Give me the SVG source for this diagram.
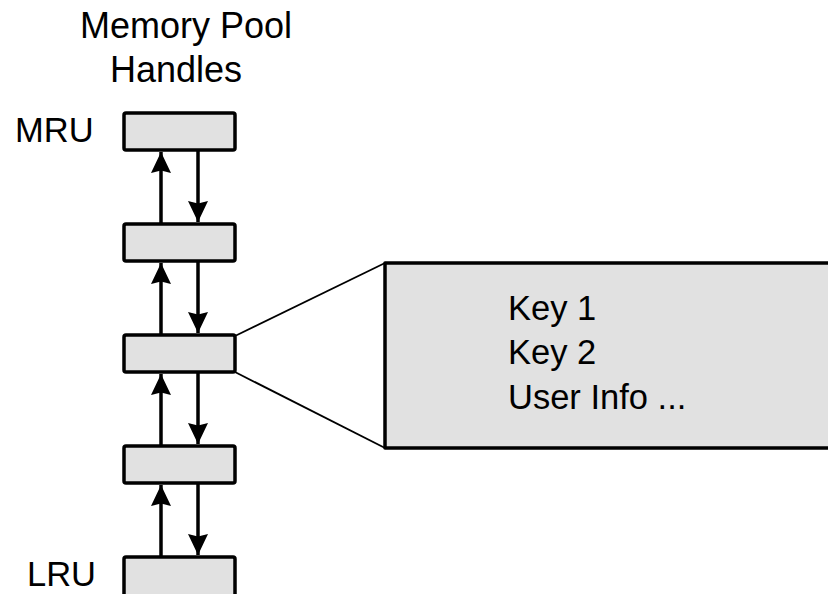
<svg xmlns="http://www.w3.org/2000/svg" width="828" height="594" viewBox="0 0 828 594">
<defs>
<style>
.box{fill:#e1e1e1;stroke:#000;stroke-width:3.5;stroke-linejoin:round}
.t{font-family:"Liberation Sans",Arial,sans-serif;font-size:34.5px;fill:#000}
.h{font-size:36px}
.c{stroke:#000;stroke-width:3.5;fill:none}
.f{stroke:#000;stroke-width:1.8;fill:none}
</style>
<marker id="ah" markerUnits="userSpaceOnUse" markerWidth="22" markerHeight="22" viewBox="0 0 22 22" refX="21" refY="11" orient="auto">
<path d="M0,1 L21,11 L0,21 L2.5,11 Z" fill="#000"/>
</marker>
</defs>
<rect width="828" height="594" fill="#fff"/>
<g id="title">
<text class="t h" x="80" y="38">Memory Pool</text>
<text class="t h" x="110" y="82">Handles</text>
</g>
<g id="labels">
<text class="t" x="15" y="142">MRU</text>
<text class="t" x="27" y="586">LRU</text>
</g>
<g id="connectors">
<line class="c" x1="161" y1="224" x2="161" y2="152" marker-end="url(#ah)"/>
<line class="c" x1="198" y1="150" x2="198" y2="222" marker-end="url(#ah)"/>
<line class="c" x1="161" y1="335" x2="161" y2="263" marker-end="url(#ah)"/>
<line class="c" x1="198" y1="261" x2="198" y2="333" marker-end="url(#ah)"/>
<line class="c" x1="161" y1="446" x2="161" y2="374" marker-end="url(#ah)"/>
<line class="c" x1="198" y1="372" x2="198" y2="444" marker-end="url(#ah)"/>
<line class="c" x1="161" y1="557" x2="161" y2="485" marker-end="url(#ah)"/>
<line class="c" x1="198" y1="483" x2="198" y2="555" marker-end="url(#ah)"/>
<line class="f" x1="235" y1="336" x2="385" y2="263"/>
<line class="f" x1="235" y1="372" x2="385" y2="448"/>
</g>
<g id="h1"><rect class="box" x="124" y="113" width="111" height="37" rx="2"/></g>
<g id="h2"><rect class="box" x="124" y="224" width="111" height="37" rx="2"/></g>
<g id="h3"><rect class="box" x="124" y="335" width="111" height="37" rx="2"/></g>
<g id="h4"><rect class="box" x="124" y="446" width="111" height="37" rx="2"/></g>
<g id="h5"><rect class="box" x="124" y="557" width="111" height="60" rx="2"/></g>
<g id="detail">
<rect class="box" x="385" y="263" width="470" height="185"/>
<text class="t" x="508" y="320">Key 1</text>
<text class="t" x="508" y="364">Key 2</text>
<text class="t" x="508" y="409">User Info ...</text>
</g>
</svg>
